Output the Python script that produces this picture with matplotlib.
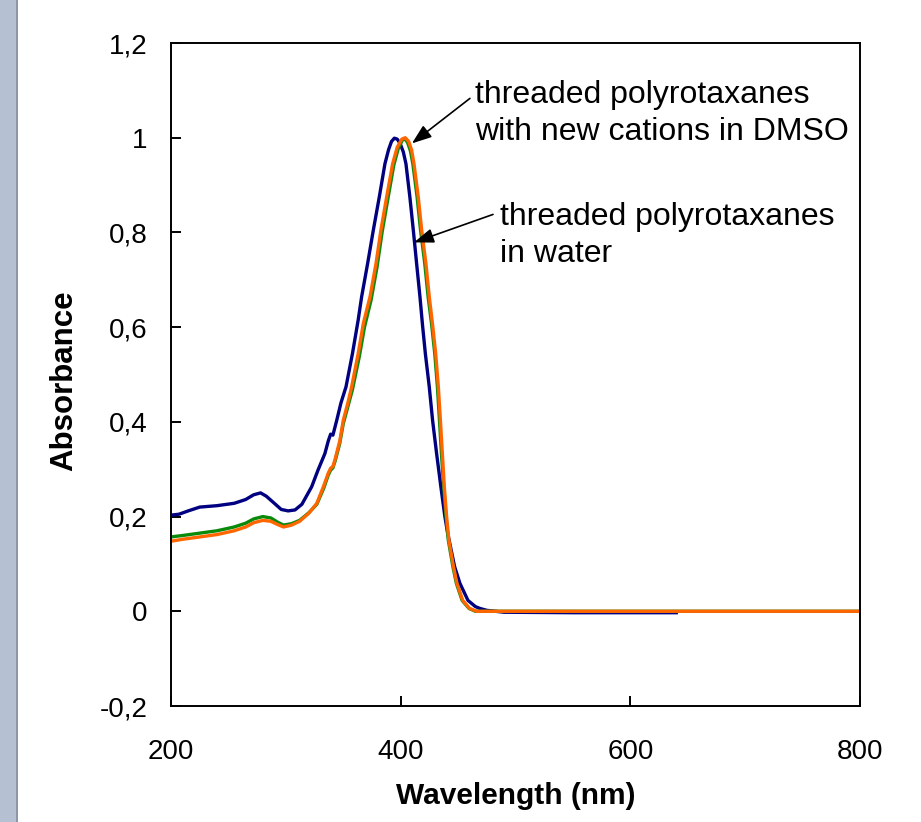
import numpy as np
import matplotlib.pyplot as plt
from matplotlib.patches import Rectangle

plt.rcParams['font.family'] = ['Liberation Sans', 'DejaVu Sans']

# spectre bleu (polyrotaxanes, eau)
wl_bleu = [200, 207, 215, 225, 240, 255, 265, 272, 278, 283, 290, 296, 302, 308, 314,
           322.5, 328, 334, 337, 339, 341, 344.3, 348, 352.4, 358, 363, 366, 371.2, 376.2,
           381.4, 386.3, 389.5, 392, 394.5, 397, 399.5, 402.3, 404.6, 408, 411, 413.9, 416.8,
           419, 421.5, 424.9, 427.8, 431.3, 435, 438.5, 441, 447, 451.6, 458.6, 465, 469, 475,
           490, 550, 640]
abs_bleu = [0.203, 0.205, 0.212, 0.220, 0.223, 0.228, 0.236, 0.246, 0.250, 0.243, 0.228,
            0.215, 0.212, 0.214, 0.226, 0.263, 0.298, 0.333, 0.360, 0.374, 0.372, 0.403,
            0.440, 0.474, 0.544, 0.615, 0.664, 0.734, 0.805, 0.875, 0.945, 0.975, 0.992,
            0.999, 0.997, 0.988, 0.970, 0.945, 0.875, 0.805, 0.734, 0.664, 0.605, 0.544,
            0.474, 0.403, 0.333, 0.263, 0.200, 0.164, 0.094, 0.059, 0.023, 0.010, 0.006,
            0.002, -0.002, -0.003, -0.003]

# spectre vert
wl_vert = [200, 210, 225, 240, 255, 265, 272, 280, 287, 293, 298, 305, 312, 320, 327, 333,
           337, 339, 341, 343, 347, 350, 354, 358, 364, 368.5, 374.3, 379.5, 383.8, 388.8,
           394, 398, 401.5, 403.5, 406, 408.5, 410.6, 414.3, 417.3, 421, 423.9, 427, 429.7,
           432, 433.8, 435.5, 437.5, 439.5, 441.5, 445.5, 448.5, 453.5, 459.5, 465, 600, 800]
abs_vert = [0.157, 0.160, 0.165, 0.170, 0.178, 0.186, 0.195, 0.200, 0.197, 0.188, 0.182,
            0.185, 0.192, 0.208, 0.226, 0.260, 0.288, 0.298, 0.303, 0.318, 0.355, 0.396,
            0.432, 0.468, 0.538, 0.600, 0.658, 0.728, 0.800, 0.870, 0.942, 0.978, 0.995,
            0.998, 0.990, 0.972, 0.945, 0.875, 0.805, 0.734, 0.664, 0.605, 0.544, 0.474,
            0.403, 0.333, 0.263, 0.200, 0.150, 0.094, 0.059, 0.023, 0.006, 0.0, 0.0, 0.0]

# spectre orange (nouveaux cations, DMSO)
wl_orange = [200, 210, 225, 240, 255, 265, 272, 280, 287, 293, 298, 305, 312, 320, 327, 333,
             337, 339, 341, 343, 347, 350, 354, 357.3, 363, 367.5, 373.3, 378.5, 382.8, 387.8,
             393, 397, 401, 404, 407, 409.5, 411.6, 415.3, 418.3, 422, 424.9, 427.8, 430.5,
             432.8, 434.6, 436.3, 438, 440, 442, 446, 449, 454, 460, 466, 500, 650, 800]
abs_orange = [0.148, 0.152, 0.157, 0.162, 0.170, 0.178, 0.187, 0.192, 0.190, 0.183, 0.178,
              0.182, 0.190, 0.207, 0.228, 0.265, 0.292, 0.302, 0.306, 0.322, 0.360, 0.403,
              0.440, 0.474, 0.544, 0.608, 0.664, 0.734, 0.805, 0.875, 0.945, 0.980, 0.997,
              1.000, 0.992, 0.974, 0.945, 0.875, 0.805, 0.734, 0.664, 0.605, 0.544, 0.474,
              0.403, 0.333, 0.263, 0.200, 0.150, 0.094, 0.059, 0.023, 0.006, 0.0, 0.0, 0.0, 0.0]

yticks = [-0.2, 0, 0.2, 0.4, 0.6, 0.8, 1.0, 1.2]
ytick_labels = ['-0,2', '0', '0,2', '0,4', '0,6', '0,8', '1', '1,2']
xticks = [200, 400, 600, 800]

fig = plt.figure(figsize=(9.21, 8.22), dpi=100)
ax = fig.add_axes([171/921, 116/822, 689/921, 663/822])

# barre grise a gauche
fig.patches.append(Rectangle((0, 0), 16/921, 1, transform=fig.transFigure,
                             facecolor='#b5c0d3', edgecolor='none'))
fig.patches.append(Rectangle((16/921, 0), 2/921, 1, transform=fig.transFigure,
                             facecolor='#8e97aa', edgecolor='none'))

ax.plot(wl_bleu, abs_bleu, color='#000080', lw=2.4)
ax.plot(wl_vert, abs_vert, color='#0a8a0a', lw=2.4)
ax.plot(wl_orange, abs_orange, color='#ff6600', lw=2.4)

ax.set_xlim(200, 800)
ax.set_ylim(-0.2, 1.2)
ax.set_xticks(xticks)
ax.set_yticks(yticks)
ax.set_yticklabels(ytick_labels)

for s in ax.spines.values():
    s.set_linewidth(1.4)
ax.tick_params(axis='y', direction='in', length=7, width=1.4, labelsize=20, pad=17)
ax.tick_params(axis='x', direction='in', length=7, width=1.4, labelsize=20, pad=24)

ax.set_xlabel('Wavelength (nm)', fontsize=21.5, fontweight='bold')
ax.xaxis.set_label_coords(0.5, -0.114)
ax.set_ylabel('Absorbance', fontsize=22.5, fontweight='bold', va='center')
ax.yaxis.set_label_coords(-0.155, 0.49)

# annotations
ax.text(464.7, 1.121, 'threaded polyrotaxanes\nwith new cations in DMSO',
        fontsize=23, va='top', ha='left', linespacing=1.28)
ax.annotate('', xy=(409.8, 0.988), xytext=(460.3, 1.083),
            arrowprops=dict(arrowstyle='-|>,head_length=0.6,head_width=0.22',
                            color='black', lw=1.2, shrinkA=0, shrinkB=0,
                            mutation_scale=20))
ax.text(486.5, 0.864, 'threaded polyrotaxanes\nin water',
        fontsize=23, va='top', ha='left', linespacing=1.28)
ax.annotate('', xy=(411.6, 0.779), xytext=(480.4, 0.838),
            arrowprops=dict(arrowstyle='-|>,head_length=0.6,head_width=0.22',
                            color='black', lw=1.2, shrinkA=0, shrinkB=0,
                            mutation_scale=20))

fig.savefig('out.png', dpi=100)
